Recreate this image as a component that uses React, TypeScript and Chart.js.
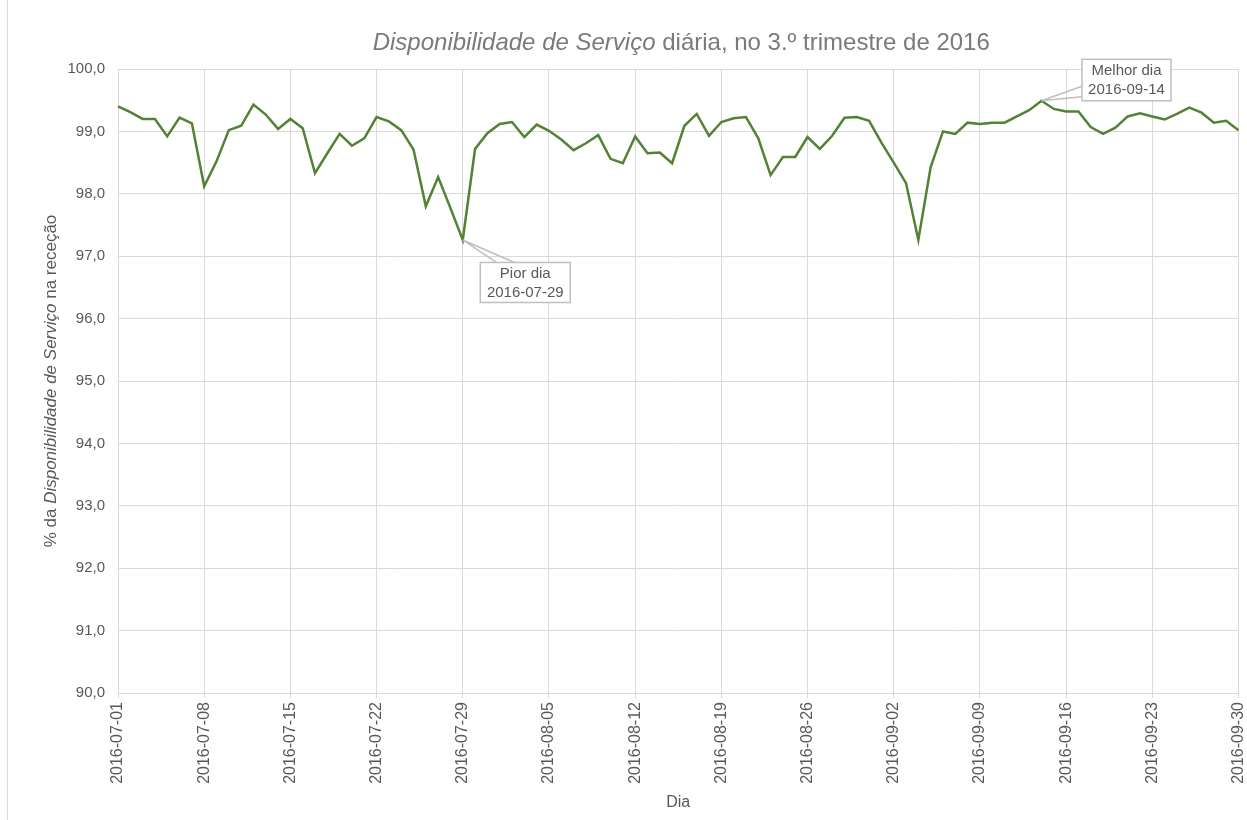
import { useEffect, useRef } from 'react';
import { Chart, registerables } from 'chart.js';

Chart.register(...registerables);

// ---- Data ----
const buildDates = (start: string, count: number): string[] => {
  const out: string[] = [];
  const d = new Date(start + 'T00:00:00Z');
  for (let i = 0; i < count; i++) {
    out.push(d.toISOString().slice(0, 10));
    d.setUTCDate(d.getUTCDate() + 1);
  }
  return out;
};

const DAYS: string[] = buildDates('2016-07-01', 92);

const AVAILABILITY: number[] = [
  99.40, 99.31, 99.20, 99.20, 98.92, 99.22, 99.13, 98.12, 98.52, 99.02,
  99.09, 99.43, 99.27, 99.04, 99.20, 99.05, 98.33, 98.65, 98.96, 98.77,
  98.89, 99.23, 99.16, 99.02, 98.71, 97.80, 98.27, 97.77, 97.26, 98.72,
  98.97, 99.12, 99.15, 98.91, 99.11, 99.01, 98.87, 98.70, 98.81, 98.94,
  98.56, 98.49, 98.92, 98.65, 98.66, 98.49, 99.09, 99.28, 98.93, 99.15,
  99.21, 99.23, 98.89, 98.30, 98.59, 98.59, 98.91, 98.72, 98.93, 99.22,
  99.23, 99.17, 98.82, 98.50, 98.17, 97.26, 98.43, 99.00, 98.96, 99.14,
  99.12, 99.14, 99.14, 99.24, 99.34, 99.49, 99.36, 99.32, 99.32, 99.07,
  98.96, 99.06, 99.24, 99.29, 99.24, 99.19, 99.28, 99.38, 99.30, 99.14,
  99.17, 99.02,
];

const Y_MIN = 90;
const Y_MAX = 100;
const X_TICK_EVERY = 7;

const TITLE_ITALIC = 'Disponibilidade de Serviço';
const TITLE_REST = ' diária, no 3.º trimestre de 2016';
const Y_TITLE_PARTS: [string, boolean][] = [
  ['% da ', false],
  ['Disponibilidade de Serviço', true],
  [' na receção', false],
];
const X_TITLE = 'Dia';

const WORST_DAY = '2016-07-29';
const BEST_DAY = '2016-09-14';
const WORST_LABEL = ['Pior dia', WORST_DAY];
const BEST_LABEL = ['Melhor dia', BEST_DAY];

// ---- Styles ----
const FONT = "'Liberation Sans', Arial, sans-serif";
const TEXT = '#595959';
const TITLE_COLOR = '#7a7a7a';
const GRID = '#d9d9d9';
const LINE = '#548235';
const CALLOUT = '#bfbfbf';

const decorPlugin = {
  id: 'decor',
  beforeDraw(chart: any) {
    const ctx = chart.ctx;
    ctx.save();
    ctx.fillStyle = '#ffffff';
    ctx.fillRect(0, 0, chart.width, chart.height);
    ctx.strokeStyle = GRID;
    ctx.lineWidth = 1;
    ctx.beginPath();
    ctx.moveTo(7.5, 0);
    ctx.lineTo(7.5, chart.height);
    ctx.stroke();
    ctx.restore();
  },
  afterDraw(chart: any) {
    const ctx = chart.ctx;
    const area = chart.chartArea;
    ctx.save();
    // Title (mixed italic)
    ctx.fillStyle = TITLE_COLOR;
    ctx.textBaseline = 'alphabetic';
    const tSize = 24;
    const fItal = `italic ${tSize}px ${FONT}`;
    const fNorm = `${tSize}px ${FONT}`;
    ctx.font = fItal;
    const w1 = ctx.measureText(TITLE_ITALIC).width;
    ctx.font = fNorm;
    const w2 = ctx.measureText(TITLE_REST).width;
    const cx = (area.left + area.right) / 2 + 3;
    const x = cx - (w1 + w2) / 2;
    ctx.font = fItal;
    ctx.textAlign = 'left';
    ctx.fillText(TITLE_ITALIC, x, 50);
    ctx.font = fNorm;
    ctx.fillText(TITLE_REST, x + w1, 50);

    // Y title (rotated, mixed italic)
    const ySize = 17;
    ctx.fillStyle = TEXT;
    let total = 0;
    const widths: number[] = [];
    for (const [s, it] of Y_TITLE_PARTS) {
      ctx.font = `${it ? 'italic ' : ''}${ySize}px ${FONT}`;
      const w = ctx.measureText(s).width;
      widths.push(w);
      total += w;
    }
    ctx.save();
    ctx.translate(56, (area.top + area.bottom) / 2);
    ctx.rotate(-Math.PI / 2);
    let px = -total / 2;
    Y_TITLE_PARTS.forEach(([s, it], i) => {
      ctx.font = `${it ? 'italic ' : ''}${ySize}px ${FONT}`;
      ctx.fillText(s, px, 0);
      px += widths[i];
    });
    ctx.restore();

    // X title
    ctx.font = `16px ${FONT}`;
    ctx.textAlign = 'center';
    ctx.fillText(X_TITLE, (area.left + area.right) / 2, 807);

    // Callouts
    const meta = chart.getDatasetMeta(0);
    const drawBox = (bx: number, by: number, bw: number, bh: number, lines: string[]) => {
      ctx.fillStyle = '#ffffff';
      ctx.fillRect(bx, by, bw, bh);
      ctx.strokeStyle = CALLOUT;
      ctx.lineWidth = 1.5;
      ctx.strokeRect(bx, by, bw, bh);
      ctx.fillStyle = TEXT;
      ctx.font = `15px ${FONT}`;
      ctx.textAlign = 'center';
      ctx.textBaseline = 'middle';
      ctx.fillText(lines[0], bx + bw / 2, by + bh / 2 - 9);
      ctx.fillText(lines[1], bx + bw / 2, by + bh / 2 + 10);
    };
    const wi = DAYS.indexOf(WORST_DAY);
    const bi = DAYS.indexOf(BEST_DAY);
    if (wi >= 0 && meta.data[wi]) {
      const p = meta.data[wi];
      const bx = p.x + 17.5, by = p.y + 22.5, bw = 90, bh = 40;
      ctx.strokeStyle = CALLOUT;
      ctx.lineWidth = 1.5;
      ctx.beginPath();
      ctx.moveTo(p.x, p.y);
      ctx.lineTo(bx + 16, by);
      ctx.moveTo(p.x, p.y);
      ctx.lineTo(bx + 34, by);
      ctx.stroke();
      drawBox(bx, by, bw, bh, WORST_LABEL);
    }
    if (bi >= 0 && meta.data[bi]) {
      const p = meta.data[bi];
      const bx = p.x + 40.5, by = p.y - 41.5, bw = 89, bh = 41.5;
      ctx.strokeStyle = CALLOUT;
      ctx.lineWidth = 1.5;
      ctx.beginPath();
      ctx.moveTo(p.x, p.y);
      ctx.lineTo(bx, by + 27);
      ctx.moveTo(p.x, p.y);
      ctx.lineTo(bx, by + 37.5);
      ctx.stroke();
      drawBox(bx, by, bw, bh, BEST_LABEL);
    }
    ctx.restore();
  },
};

export default function App() {
  const ref = useRef<HTMLCanvasElement>(null);

  useEffect(() => {
    if (!ref.current) return;
    const chart = new Chart(ref.current, {
      type: 'line',
      data: {
        labels: DAYS,
        datasets: [
          {
            data: AVAILABILITY,
            borderColor: LINE,
            backgroundColor: LINE,
            borderWidth: 2.5,
            pointRadius: 0,
            tension: 0,
          },
        ],
      },
      options: {
        responsive: false,
        animation: false,
        layout: { padding: { top: 69, right: 8.5, bottom: 0, left: 0 } },
        plugins: {
          legend: { display: false },
          title: { display: false },
          tooltip: { enabled: false },
        },
        scales: {
          x: {
            type: 'category',
            offset: false,
            afterFit: (s: any) => {
              s.height = 127;
              s.paddingLeft = 0;
              s.paddingRight = 0;
            },
            grid: {
              color: (c: any) => (c.index % X_TICK_EVERY === 0 ? GRID : 'rgba(0,0,0,0)'),
              tickLength: 5,
              lineWidth: 1,
            },
            border: { color: GRID },
            ticks: {
              autoSkip: false,
              maxRotation: 90,
              minRotation: 90,
              padding: 4,
              color: TEXT,
              font: { family: FONT, size: 16 },
              callback: function (this: any, v: any, i: number) {
                return i % X_TICK_EVERY === 0 ? this.getLabelForValue(v) : '';
              },
            },
          },
          y: {
            min: Y_MIN,
            max: Y_MAX,
            afterFit: (s: any) => {
              s.width = 118;
              s.paddingTop = 0;
              s.paddingBottom = 0;
            },
            grid: { color: GRID, drawTicks: false },
            border: { display: false },
            ticks: {
              stepSize: 1,
              padding: 13,
              color: TEXT,
              font: { family: FONT, size: 15 },
              callback: (v: any) => Number(v).toFixed(1).replace('.', ','),
            },
          },
        },
      },
      plugins: [decorPlugin],
    });
    return () => chart.destroy();
  }, []);

  return (
    <div style={{ position: 'fixed', left: 0, top: 0, width: 1247, height: 820, background: '#fff' }}>
      <canvas ref={ref} width={1247} height={820} style={{ width: 1247, height: 820, display: 'block' }} />
    </div>
  );
}
